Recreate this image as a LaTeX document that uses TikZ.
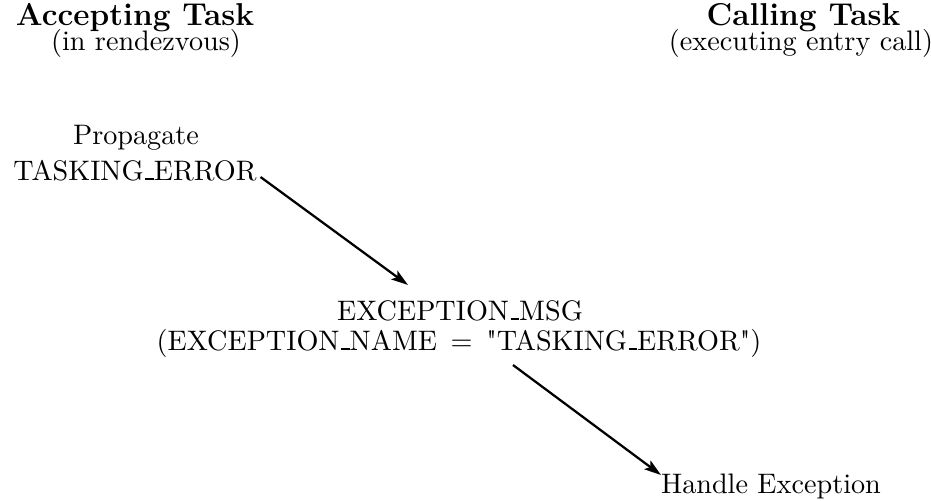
\documentclass[tikz,border=0pt]{standalone}
\usetikzlibrary{arrows.meta}
% underscore drawn as a short rule sitting on the baseline
\newcommand\usc{\leavevmode\kern.06em\vbox{\hrule height .6pt width .3em}}
% straight double quote, set as a glyph so no text mapping touches it
\newcommand\sq{\XeTeXglyph\XeTeXcharglyph"22\relax}
\begin{document}
\begin{tikzpicture}[x=0.3546pt,y=-0.3546pt,
  lbl/.style={anchor=base,inner sep=0pt,outer sep=0pt,font=\fontsize{10}{12}\selectfont},
  head/.style={anchor=base,inner sep=0pt,outer sep=0pt,font=\fontsize{11.2}{13.6}\selectfont\bfseries},
  msgarrow/.style={line width=0.8pt,-{Stealth[length=6pt,width=3.8pt,inset=1.3pt]}}]
\useasboundingbox (0,0) rectangle (931,501);

% column headings
\node[head] (acc)  at (135,25) {Accepting Task};
\node[lbl]  (rdv)  at (146,50) {(in rendezvous)};
\node[head] (call) at (803.5,25) {Calling Task};
\node[lbl]  (exec) at (801,50) {(executing entry call)};

% accepting side
\node[lbl] (prop) at (136,145) {Propagate};
\node[lbl] (task) at (135,180) {TASKING\usc ERROR};

% message
\node[lbl] (msg)  at (460,320) {EXCEPTION\usc MSG};
\node[lbl] (name) at (459,350) {(EXCEPTION\usc NAME\hspace{1.5pt} = \hspace{1.5pt}\sq TASKING\usc ERROR\sq)};

% calling side
\node[lbl] (hdl) at (771,493) {Handle Exception};

\coordinate (m1) at (408,285);
\coordinate (m2) at (513,365);
\coordinate (h1) at (661,475);

\draw[msgarrow] ([shift={(4,-3)}]task.base east) -- (m1);
\draw[msgarrow] (m2) -- (h1);
\end{tikzpicture}
\end{document}
